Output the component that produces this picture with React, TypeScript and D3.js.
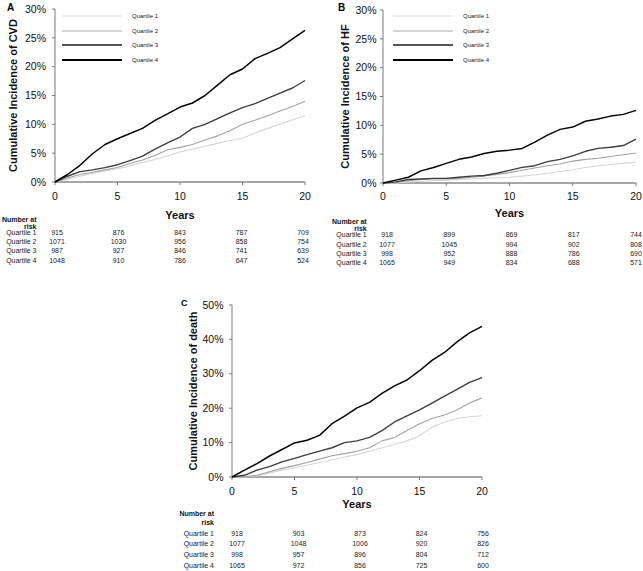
import React from "react";
import * as d3 from "d3";

// ---------- DATA ----------
const years = [0, 1, 2, 3, 4, 5, 6, 7, 8, 9, 10, 11, 12, 13, 14, 15, 16, 17, 18, 19, 20];
const quartiles = ["Quartile 1", "Quartile 2", "Quartile 3", "Quartile 4"];

// Panel A: cumulative incidence of CVD (%)
const cvdQ1 = [0, 0.5, 1.0, 1.5, 1.9, 2.3, 2.8, 3.4, 3.9, 4.5, 5.2, 5.7, 6.2, 6.7, 7.2, 7.6, 8.5, 9.3, 10.0, 10.8, 11.5];
const cvdQ2 = [0, 0.7, 1.3, 1.7, 2.1, 2.5, 3.2, 3.8, 4.6, 5.6, 6.0, 6.5, 7.3, 8.0, 8.9, 10.0, 10.7, 11.5, 12.3, 13.1, 14.0];
const cvdQ3 = [0, 1.0, 1.8, 2.1, 2.5, 3.0, 3.7, 4.5, 5.7, 6.8, 7.8, 9.3, 10.0, 11.0, 12.0, 12.9, 13.6, 14.5, 15.4, 16.3, 17.6];
const cvdQ4 = [0, 1.3, 2.9, 4.9, 6.5, 7.5, 8.4, 9.3, 10.7, 11.8, 13.0, 13.7, 15.0, 16.8, 18.6, 19.6, 21.4, 22.3, 23.3, 24.8, 26.3];

// Panel B: cumulative incidence of HF (%)
const hfQ1 = [0, 0.0, 0.2, 0.3, 0.4, 0.5, 0.6, 0.7, 0.8, 0.9, 1.0, 1.2, 1.4, 1.7, 2.0, 2.3, 2.7, 3.0, 3.2, 3.4, 3.6];
const hfQ2 = [0, 0.1, 0.4, 0.6, 0.7, 0.7, 0.8, 1.0, 1.2, 1.5, 1.8, 2.2, 2.6, 3.0, 3.3, 3.8, 4.1, 4.3, 4.6, 4.9, 5.2];
const hfQ3 = [0, 0.2, 0.6, 0.7, 0.8, 0.8, 1.0, 1.2, 1.3, 1.7, 2.2, 2.7, 3.0, 3.7, 4.1, 4.7, 5.5, 6.0, 6.2, 6.5, 7.6];
const hfQ4 = [0, 0.5, 1.0, 2.1, 2.7, 3.4, 4.1, 4.5, 5.1, 5.5, 5.7, 6.0, 7.1, 8.3, 9.3, 9.7, 10.7, 11.1, 11.6, 11.9, 12.6];

// Panel C: cumulative incidence of death (%)
const deathQ1 = [0, 0, 0.3, 1.2, 2.0, 2.7, 3.4, 4.2, 5.0, 5.8, 6.5, 7.5, 8.5, 9.5, 10.5, 12.0, 14.5, 16.0, 17.0, 17.5, 17.8];
const deathQ2 = [0, 0, 0.5, 1.5, 2.5, 3.3, 4.2, 5.2, 6.2, 6.8, 7.5, 8.5, 10.5, 11.5, 13.5, 15.5, 17.0, 18.0, 19.5, 21.5, 23.0];
const deathQ3 = [0, 0.5, 2.0, 3.0, 4.4, 5.4, 6.5, 7.5, 8.5, 10.0, 10.5, 11.5, 13.5, 16.0, 17.8, 19.5, 21.5, 23.5, 25.5, 27.5, 28.9];
const deathQ4 = [0, 2.0, 3.9, 6.1, 8.0, 9.9, 10.7, 12.1, 15.5, 17.7, 20.1, 21.7, 24.3, 26.5, 28.2, 30.9, 33.9, 36.2, 39.3, 41.9, 43.8];

// Number at risk
const riskYears = [0, 5, 10, 15, 20];
const cvdRisk = [
  [915, 876, 843, 787, 709],
  [1071, 1030, 956, 858, 754],
  [987, 927, 846, 741, 639],
  [1048, 910, 786, 647, 524],
];
const hfRisk = [
  [918, 899, 869, 817, 744],
  [1077, 1045, 994, 902, 808],
  [998, 952, 888, 786, 690],
  [1065, 949, 834, 688, 571],
];
const deathRisk = [
  [918, 903, 873, 824, 756],
  [1077, 1048, 1006, 920, 826],
  [998, 957, 896, 804, 712],
  [1065, 972, 856, 725, 600],
];

const xTicks = [0, 5, 10, 15, 20];
const yTicksCvdHf = [0, 5, 10, 15, 20, 25, 30];
const yTicksDeath = [0, 10, 20, 30, 40, 50];

// ---------- STYLE ----------
const FONT = "'Liberation Sans', Arial, sans-serif";
const lineColors = ["#d6d6d6", "#a3a3a3", "#3e3e3e", "#000000"];
const lineWidths = [1.1, 1.1, 1.4, 1.5];
const legendColors = ["#dcdcdc", "#a8a8a8", "#555555", "#000000"];
const legendWidths = [1, 1, 1.8, 1.8];
const AXIS = "#7a7a7a";

type PanelCfg = {
  letter: string;
  letterX: number;
  letterY: number;
  letterSize: number;
  x0: number;
  x1: number;
  y0: number;
  y1: number;
  yMax: number;
  yTicks: number[];
  yLabel: string;
  yLabelX: number;
  tickGap: number;
  series: number[][];
  risk: number[][];
  riskX0: number;
  riskX1: number;
  tickLabelY: number;
  yearsY: number;
  numAtY: number;
  riskY: number;
  rowYs: number[];
  labelRight: number;
  legend: null | { x0: number; x1: number; tx: number; ys: number[] };
};

function Panel({ cfg }: { cfg: PanelCfg }) {
  const x = d3.scaleLinear().domain([0, 20]).range([cfg.x0, cfg.x1]);
  const y = d3.scaleLinear().domain([0, cfg.yMax]).range([cfg.y0, cfg.y1]);
  const rx = d3.scaleLinear().domain([0, 20]).range([cfg.riskX0, cfg.riskX1]);
  const line = d3
    .line<number>()
    .x((_, i) => x(years[i]))
    .y((d) => y(d))
    .curve(d3.curveLinear);
  const yMid = (cfg.y0 + cfg.y1) / 2;
  return (
    <g>
      <text x={cfg.letterX} y={cfg.letterY} fontFamily={FONT} fontWeight="bold" fontSize={cfg.letterSize} fill="#000">
        {cfg.letter}
      </text>
      {/* axes */}
      <line x1={cfg.x0} x2={cfg.x0} y1={cfg.y0} y2={cfg.y1} stroke={AXIS} strokeWidth={1} />
      <line x1={cfg.x0} x2={cfg.x1} y1={cfg.y0} y2={cfg.y0} stroke="#8a8a8a" strokeWidth={1.5} />
      {cfg.yTicks.map((t) => (
        <g key={"yt" + t}>
          <line x1={cfg.x0 - 3} x2={cfg.x0} y1={y(t)} y2={y(t)} stroke={AXIS} strokeWidth={1} />
          <text
            x={cfg.x0 - cfg.tickGap}
            y={y(t)}
            dy="0.35em"
            textAnchor="end"
            fontFamily={FONT}
            fontSize={10.5}
            fill="#111"
          >
            {t + "%"}
          </text>
        </g>
      ))}
      {xTicks.map((t) => (
        <g key={"xt" + t}>
          <line x1={x(t)} x2={x(t)} y1={cfg.y0} y2={cfg.y0 + 3} stroke={AXIS} strokeWidth={1} />
          <text x={x(t)} y={cfg.tickLabelY} dy="0.35em" textAnchor="middle" fontFamily={FONT} fontSize={10.5} fill="#111">
            {t}
          </text>
        </g>
      ))}
      <text
        transform={`translate(${cfg.yLabelX},${yMid}) rotate(-90)`}
        textAnchor="middle"
        dy="0.35em"
        fontFamily={FONT}
        fontWeight="bold"
        fontSize={11}
        fill="#111"
      >
        {cfg.yLabel}
      </text>
      <text
        x={(cfg.x0 + cfg.x1) / 2}
        y={cfg.yearsY}
        dy="0.35em"
        textAnchor="middle"
        fontFamily={FONT}
        fontWeight="bold"
        fontSize={11}
        fill="#111"
      >
        Years
      </text>
      {/* curves */}
      {cfg.series.map((s, i) => (
        <path
          key={"s" + i}
          d={line(s) || ""}
          fill="none"
          stroke={lineColors[i]}
          strokeWidth={lineWidths[i]}
          strokeLinejoin="round"
        />
      ))}
      {/* legend */}
      {cfg.legend &&
        quartiles.map((q, i) => (
          <g key={"lg" + i}>
            <line
              x1={cfg.legend!.x0}
              x2={cfg.legend!.x1}
              y1={cfg.legend!.ys[i]}
              y2={cfg.legend!.ys[i]}
              stroke={legendColors[i]}
              strokeWidth={legendWidths[i]}
            />
            <text x={cfg.legend!.tx} y={cfg.legend!.ys[i]} dy="0.35em" fontFamily={FONT} fontSize={6} fill="#222">
              {q}
            </text>
          </g>
        ))}
      {/* number at risk */}
      <text x={cfg.labelRight} y={cfg.numAtY} dy="0.35em" textAnchor="end" fontFamily={FONT} fontWeight="bold" fontSize={7} fill="#111">
        Number at
      </text>
      <text x={cfg.labelRight} y={cfg.riskY} dy="0.35em" textAnchor="end" fontFamily={FONT} fontWeight="bold" fontSize={7} fill="#111">
        risk
      </text>
      {cfg.risk.map((row, i) => (
        <g key={"r" + i}>
          <text x={cfg.labelRight} y={cfg.rowYs[i]} dy="0.35em" textAnchor="end" fontFamily={FONT} fontSize={7} fill="#222">
            {quartiles[i]}
          </text>
          {row.map((v, j) => (
            <text
              key={"v" + j}
              x={rx(riskYears[j])}
              y={cfg.rowYs[i]}
              dy="0.35em"
              textAnchor="middle"
              fontFamily={FONT}
              fontSize={7}
              fill="#222"
            >
              {v}
            </text>
          ))}
        </g>
      ))}
    </g>
  );
}

const panels: PanelCfg[] = [
  {
    letter: "A",
    letterX: 7,
    letterY: 11,
    letterSize: 10,
    x0: 55,
    x1: 305,
    y0: 182,
    y1: 9,
    yMax: 30,
    yTicks: yTicksCvdHf,
    yLabel: "Cumulative Incidence of CVD",
    yLabelX: 13,
    tickGap: 9,
    series: [cvdQ1, cvdQ2, cvdQ3, cvdQ4],
    risk: cvdRisk,
    riskX0: 57,
    riskX1: 303,
    tickLabelY: 196,
    yearsY: 215,
    numAtY: 219.5,
    riskY: 226.5,
    rowYs: [232.5, 241.8, 251, 260.2],
    labelRight: 36.5,
    legend: { x0: 62, x1: 122, tx: 132, ys: [16, 31, 45, 60] },
  },
  {
    letter: "B",
    letterX: 338,
    letterY: 11,
    letterSize: 10,
    x0: 383,
    x1: 636,
    y0: 183,
    y1: 10,
    yMax: 30,
    yTicks: yTicksCvdHf,
    yLabel: "Cumulative Incidence of HF",
    yLabelX: 345,
    tickGap: 6.5,
    series: [hfQ1, hfQ2, hfQ3, hfQ4],
    risk: hfRisk,
    riskX0: 387,
    riskX1: 636,
    tickLabelY: 196.5,
    yearsY: 213.5,
    numAtY: 221.7,
    riskY: 228.3,
    rowYs: [235, 244.2, 253.4, 262.6],
    labelRight: 366.7,
    legend: { x0: 393, x1: 453, tx: 463, ys: [16, 31, 45, 60] },
  },
  {
    letter: "C",
    letterX: 181,
    letterY: 306,
    letterSize: 9,
    x0: 232,
    x1: 482,
    y0: 477,
    y1: 305,
    yMax: 50,
    yTicks: yTicksDeath,
    yLabel: "Cumulative Incidence of death",
    yLabelX: 193,
    tickGap: 8.5,
    series: [deathQ1, deathQ2, deathQ3, deathQ4],
    risk: deathRisk,
    riskX0: 237,
    riskX1: 483,
    tickLabelY: 491,
    yearsY: 504,
    numAtY: 514,
    riskY: 522.7,
    rowYs: [533.3, 544, 555, 565.7],
    labelRight: 214,
    legend: null,
  },
];

export default function App() {
  return (
    <svg
      width={643}
      height={571}
      viewBox="0 0 643 571"
      style={{ position: "absolute", left: 0, top: 0, background: "#fff", display: "block" }}
    >
      <rect x={0} y={0} width={643} height={571} fill="#fff" />
      {panels.map((p) => (
        <Panel key={p.letter} cfg={p} />
      ))}
    </svg>
  );
}
